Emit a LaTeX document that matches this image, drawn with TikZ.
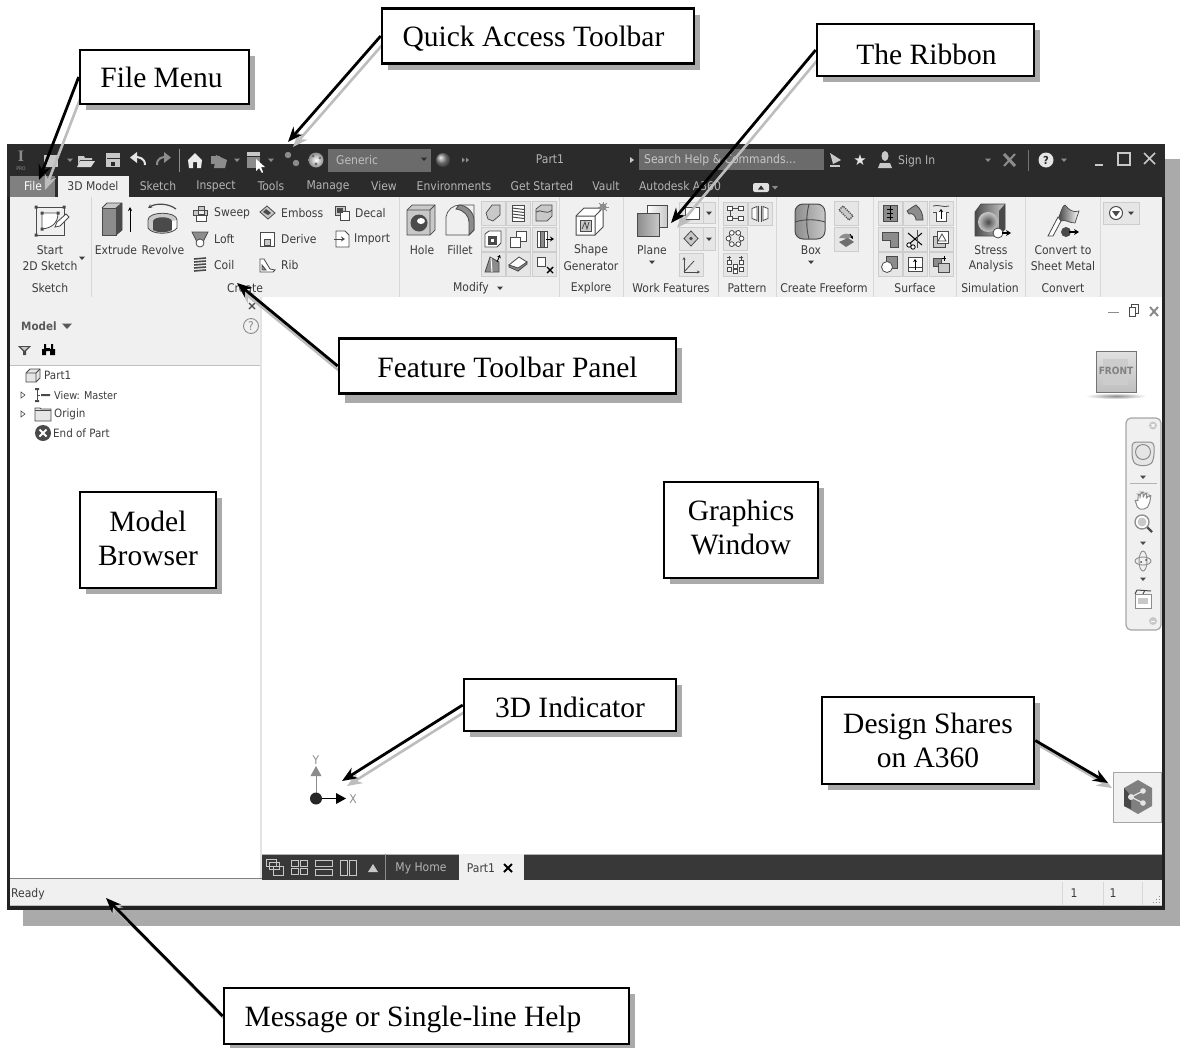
\documentclass[tikz,border=0pt]{standalone}
\usepackage{fontspec}
\setmainfont{Liberation Serif}
\newfontfamily\uifont{DejaVu Sans Condensed}
\newfontfamily\symfont{DejaVu Sans}
\usetikzlibrary{arrows.meta,calc,shadows}
\definecolor{barc}{HTML}{2B2B2B}
\definecolor{framec}{HTML}{222222}
\definecolor{shadowc}{HTML}{AAAAAA}
\definecolor{panelc}{HTML}{F0F0F0}
\definecolor{sepc}{HTML}{D8D8D8}
\definecolor{btnc}{HTML}{E6E6E6}
\definecolor{btnl}{HTML}{CDCDCD}
\definecolor{textc}{HTML}{3C3C3C}
\definecolor{tabtext}{HTML}{B4B4B4}
\definecolor{arrowsh}{HTML}{BDBDBD}
\definecolor{iconm}{HTML}{8C8C8C}
\definecolor{icond}{HTML}{4A4A4A}
\definecolor{iconl}{HTML}{C8C8C8}
\newcounter{uin}
\newcommand{\ulab}[3]{\stepcounter{uin}\node[uitext] (ui\arabic{uin}) at (#1,#2) {#3};}
\newcommand{\ulabl}[3]{\stepcounter{uin}\node[uitext,anchor=west] (ui\arabic{uin}) at (#1,#2) {#3};}
\newcommand{\treelab}[4]{\stepcounter{uin}\node[uitext,anchor=west,font=\uifont\fontsize{#4}{13}\selectfont] (ui\arabic{uin}) at (#1,#2) {#3};}
\newcommand{\tlab}[2]{\stepcounter{uin}\node[uitext,text=tabtext] (ui\arabic{uin}) at (#1,186.5) {#2};}
\newcommand{\ic}[2]{\begin{scope}[shift={(#1)}]#2\end{scope}}
\newcommand{\utri}[3]{\fill[#3] (#1-3,#2-1.5) -- (#1+3,#2-1.5) -- (#1,#2+2) -- cycle;}
\newcommand{\ubtn}[2]{\draw[fill=btnc,draw=btnl,line width=0.8] (#1-12,#2-12) rectangle (#1+12,#2+12);}
\newcommand{\sepl}[1]{\draw[sepc,line width=1] (#1,197) -- (#1,297);}
\begin{document}
\begin{tikzpicture}[x=1pt,y=-1pt,
  uitext/.style={font=\uifont\fontsize{12}{13}\selectfont,text=textc,inner sep=0pt},
  callout/.style={draw=black,fill=white,line width=2.6,align=center,inner sep=0pt,
    font=\fontsize{29.5}{34}\selectfont,text=black,
    drop shadow={shadow xshift=6pt,shadow yshift=-#1,fill=shadowc,opacity=1}},
  callout/.default=6pt,
  baseoff/.style={text height=#1,text depth=0pt},
  pointer/.style={draw=black,line width=2.8,-{Stealth[length=15pt,width=12pt]}},
  pointersh/.style={draw=arrowsh,line width=2.6,-{Stealth[length=15pt,width=12pt]}},
  ico/.style={draw=icond,line width=0.8,fill=iconm},
  icl/.style={draw=icond,line width=0.7,fill=iconl},
  wire/.style={draw=icond,line width=0.8},
]
\pgfdeclarelayer{top}
\pgfdeclarelayer{over}
\pgfsetlayers{main,top,over}
\useasboundingbox (0,0) rectangle (1180,1047);
\fill[white] (0,0) rectangle (1180,1047);
% window and shadow
\fill[shadowc] (23,159) rectangle (1181,926);
\fill[framec] (7,144) rectangle (1165,910);
\fill[white] (10,197) rectangle (1162,906);
\fill[barc] (7,144) rectangle (1165,197);
\fill[panelc] (10,197) rectangle (1162,297);
\fill[panelc] (10,297) rectangle (260,365);
\draw[black!25,line width=0.8] (10,365) -- (260,365);
\fill[sepc!70] (260,297) rectangle (262,878);
\fill[panelc] (10,879) rectangle (1162,906);
\draw[gray,line width=0.8] (10,878.5) -- (262,878.5);
\draw[black!25,line width=0.8] (10,905.5) -- (1162,905.5);
% title row
\stepcounter{uin}\node[inner sep=0pt,text=iconm,font=\bfseries\fontsize{16}{16}\selectfont] (ui\arabic{uin}) at (21,156) {I};
\stepcounter{uin}\node[inner sep=0pt,text=iconm,font=\uifont\fontsize{5}{5}\selectfont] (ui\arabic{uin}) at (21,169) {PRO};
\fill[iconl] (44,155) rectangle (58,167);
\utri{70}{160}{iconm}
\fill[iconl] (78,156) -- (84,156) -- (85,158) -- (92,158) -- (92,160) -- (80,160) -- (78,165) -- cycle;
\fill[white!85!black] (80,161) -- (95,161) -- (91,167) -- (77,167) -- cycle;
\fill[iconl] (106,153) rectangle (120,167);
\fill[barc] (106.5,158) rectangle (119.5,159);
\fill[barc] (111,162) rectangle (115,165.5);
\draw[white!90!black,line width=2] (145,165) .. controls (145,158) and (139,157) .. (135,157);
\fill[white!90!black] (137,152) -- (130,157.5) -- (137,163) -- cycle;
\draw[iconm,line width=2] (157,165) .. controls (157,158) and (162,157) .. (166,157);
\fill[iconm] (164,152) -- (171,157.5) -- (164,163) -- cycle;
\draw[iconm,line width=0.8] (179,149) -- (179,172);
\fill[white!92!black] (188,160) -- (195,153) -- (202,160) -- (201,168) -- (197,168) -- (197,162) -- (193,162) -- (193,168) -- (189,168) -- cycle;
\fill[iconm] (211,156) rectangle (220,164);
\fill[iconl!70!black] (216,155) -- (227,160) -- (225,168) -- (214,168) -- cycle;
\utri{237}{160}{iconm}
\fill[iconl] (247,152) rectangle (260,156);
\fill[iconm] (247,157) rectangle (260,168);
\fill[white] (256,159) -- (256,171) -- (259,168) -- (262,173) -- (263,172) -- (261,167) -- (265,167) -- cycle;
\utri{271}{160}{iconm}
\fill[iconm] (288,155) circle (3.2);
\fill[iconm] (296,163) circle (3.2);
\shade[inner color=white,outer color=iconm] (316,160) circle (7.5);
\fill[barc!70] (313,156) circle (1.5) (320,158) circle (1.3) (316,164) circle (1.6);
\fill[black!58] (328,149) rectangle (431,172);
\ulabl{336}{160}{\textcolor{black!25}{Generic}}
\utri{424}{159}{barc}
\shade[ball color=black!45] (443,160) circle (7);
\fill[iconm] (462,157.5) -- (465,160) -- (462,162.5) -- cycle;
\fill[iconm] (466,157.5) -- (469,160) -- (466,162.5) -- cycle;
\ulab{550}{159}{\textcolor{tabtext}{Part1}}
\fill[iconl] (630,157) -- (634,160) -- (630,163) -- cycle;
\fill[black!58] (639,149) rectangle (824,170);
\ulabl{644}{160}{\textcolor{black!22}{Search Help \& Commands...}}
\fill[iconl] (830,153) -- (841,160) -- (833,164) -- cycle;
\fill[iconl] (830,165) -- (840,165) -- (840,167) -- (830,167) -- cycle;
\stepcounter{uin}\node[inner sep=0pt,text=white!90!black,font=\symfont\fontsize{15}{15}\selectfont] (ui\arabic{uin}) at (860,160) {★};
\fill[iconl] (885,156) ellipse (3.5 and 5);
\fill[iconl] (878,168) -- (880,163) -- (890,163) -- (892,168) -- cycle;
\ulabl{898}{161}{\textcolor{tabtext}{Sign In}}
\utri{988}{160}{iconm}
\draw[iconm,line width=3] (1004,154) -- (1015,166);
\draw[iconm,line width=2] (1015,154) -- (1004,166);
\draw[black!55,line width=0.8] (1028,150) -- (1028,171);
\fill[white!90!black] (1046,160) circle (7.5);
\stepcounter{uin}\node[inner sep=0pt,text=barc,font=\uifont\bfseries\fontsize{11}{11}\selectfont] (ui\arabic{uin}) at (1046,160) {?};
\utri{1064}{160}{iconm}
\draw[iconl,line width=1.6] (1095,165) -- (1103,165);
\draw[iconl,line width=1.2] (1118,153) rectangle (1130,165);
\draw[iconl,line width=1.6] (1144,153) -- (1155,164) (1155,153) -- (1144,164);
% tab row
\fill[black!50] (10,176) rectangle (55,197);
\ulab{33}{186.5}{\textcolor{white}{File}}
\fill[panelc] (58,176) rectangle (129,197);
\ulab{93}{186.5}{3D Model}
\tlab{158}{Sketch}\tlab{216}{Inspect}\tlab{271}{Tools}\tlab{328}{Manage}\tlab{384}{View}
\tlab{454}{Environments}\tlab{542}{Get Started}\tlab{606}{Vault}\tlab{680}{Autodesk A360}
\fill[white!88!black,rounded corners=2] (753,183) rectangle (769,192);
\fill[barc] (758,189.5) -- (764,189.5) -- (761,185.5) -- cycle;
\utri{775}{187.5}{iconm}
% ribbon separators
\foreach \xx in {91,399,559,623,718,776,873,956,1025,1100} {\sepl{\xx}}
% ribbon labels
\ulab{50}{250}{Start}\ulab{50}{266}{2D Sketch}\utri{82}{258}{textc}\ulab{50}{288}{Sketch}
\ulab{116}{250}{Extrude}\ulab{163}{250}{Revolve}
\ulabl{214}{213}{Sweep}\ulabl{214}{239}{Loft}\ulabl{214}{265}{Coil}
\ulabl{281}{213}{Emboss}\ulabl{281}{239}{Derive}\ulabl{281}{265}{Rib}
\ulabl{355}{213}{Decal}\ulabl{354}{239}{Import}
\ulab{245}{288}{Create}
\ulab{422}{250}{Hole}\ulab{460}{250}{Fillet}
\ulab{471}{288}{Modify}\utri{500}{288}{textc}
\ulab{591}{250}{Shape}\ulab{591}{266}{Generator}\ulab{591}{288}{Explore}
\ulab{652}{250}{Plane}\utri{652}{262}{textc}
\ulab{671}{288}{Work Features}\ulab{747}{288}{Pattern}
\ulab{811}{250}{Box}\utri{811}{262}{textc}\ulab{824}{288}{Create Freeform}
\ulab{915}{288}{Surface}\ulab{991}{250}{Stress}\ulab{991}{266}{Analysis}\ulab{990}{288}{Simulation}
\ulab{1063}{250}{Convert to}\ulab{1063}{266}{Sheet Metal}\ulab{1063}{288}{Convert}
% Start 2D Sketch icon
\ic{50,221}{
  \draw[wire,line width=1] (-14,-14) rectangle (14,14);
  \draw[wire,fill=white] (-8,-8) -- (8,-8) .. controls (8,2) and (2,7) .. (-8,8) -- cycle;
  \fill[icond] (-15.5,-15.5) rectangle (-12.5,-12.5) (12.5,-15.5) rectangle (15.5,-12.5) (-15.5,12.5) rectangle (-12.5,15.5) (-9.5,-9.5) rectangle (-6.5,-6.5) (6.5,-9.5) rectangle (9.5,-6.5) (-9.5,6.5) rectangle (-6.5,9.5);
  \draw[icond,fill=white,line width=0.8] (7,1) -- (16,-7) -- (19,-4) -- (10,5) -- (5,6) -- cycle;
}
% Extrude
\fill[iconm] (102,208) rectangle (116,235);
\fill[iconl] (102,208) -- (107,203) -- (122,203) -- (116,208) -- cycle;
\fill[icond] (116,208) -- (122,203) -- (122,230) -- (116,235) -- cycle;
\draw[wire] (102,208) rectangle (116,235);
\draw[wire] (102,208) -- (107,203) -- (122,203) -- (122,230) -- (116,235) (116,208) -- (122,203);
\draw[black,line width=0.9,-{Stealth[length=4pt,width=4pt]}] (130,232) -- (130,207);
% Revolve
\draw[icond,line width=1.2,-{Stealth[length=4pt,width=4pt]}] (176,209) .. controls (168,203) and (156,203) .. (148,208);
\fill[iconl] (148,220) .. controls (148,211) and (177,211) .. (177,220) -- (177,228) .. controls (172,235) and (152,235) .. (148,228) -- cycle;
\fill[icond] (153,221) .. controls (155,216) and (170,216) .. (172,221) -- (172,230) .. controls (166,233) and (158,233) .. (153,230) -- cycle;
\fill[white] (172,221) -- (177,220) -- (177,228) -- (172,232) -- cycle;
\draw[wire] (148,220) .. controls (148,211) and (177,211) .. (177,220) -- (177,228) .. controls (172,235) and (152,235) .. (148,228) -- cycle;
% small create icons
\ic{200,213}{\draw[icl] (-2,-7) rectangle (4,1) (-7,-3) -- (7,-3) -- (7,2) -- (-7,2) -- cycle; \draw[ico,fill=white] (-4,2) rectangle (6,8);}
\ic{200,239}{\draw[ico] (-8,-7) -- (8,-7) -- (3,3) -- (-3,3) -- cycle; \draw[wire,fill=white] (0,4) circle (4);}
\ic{200,265}{\foreach \yy in {-6,-3,0,3,6} {\draw[icond,line width=1.6] (-6,\yy) -- (6,\yy-1);}}
\ic{267,213}{\fill[iconl] (-7,-1) -- (0,-7) -- (8,0) -- (1,6) -- cycle; \draw[wire] (-7,-1) -- (0,-7) -- (8,0) -- (1,6) -- cycle; \fill[icond] (-4,-1) -- (-1,-4) -- (4,0) -- (1,2) -- cycle;}
\ic{267,239}{\draw[wire,fill=white] (-7,-7) rectangle (7,7); \draw[icl] (-3,0) rectangle (3,6);}
\ic{267,265}{\draw[wire,fill=white] (-7,7) -- (-7,-6) -- (-3,-6) -- (3,4) -- (8,5) -- (6,7) -- cycle; \draw[ico] (-5,5) -- (-5,0) -- (-1,5) -- cycle;}
\ic{342,213}{\draw[icl] (-7,-7) rectangle (3,2); \draw[wire,fill=white] (-2,-2) rectangle (7,7); \fill[icond] (-5,-5) rectangle (1,0);}
\ic{342,239}{\draw[wire,fill=white] (-6,-8) -- (3,-8) -- (7,-4) -- (7,8) -- (-6,8) -- cycle; \draw[icond,line width=1,-{Stealth[length=4pt,width=5pt]}] (-8,0) -- (3,0);}
% hole and fillet
\ic{421,220}{
  \draw[icl] (-14,-10) -- (-9,-15) -- (14,-15) -- (14,10) -- (9,15) -- (-14,15) -- cycle;
  \draw[wire] (-14,-10) -- (9,-10) -- (14,-15) (9,-10) -- (9,15);
  \fill[icond] (-2,3) circle (8.5); \fill[white] (0,1) ellipse (4 and 3);
}
\ic{460,220}{
  \draw[icl,fill=panelc] (-14,15) -- (-14,-3) .. controls (-13,-10) and (-7,-15) .. (0,-15) -- (14,-15) -- (14,10) -- (9,15) -- cycle;
  \draw[ico] (-1,-15) .. controls (6,-15) and (14,-8) .. (14,0) -- (14,10) -- (9,15) -- (9,2) .. controls (9,-4) and (4,-10) .. (-4,-11) -- cycle;
}
% modify grid
\ubtn{493}{213}\ubtn{518}{213}\ubtn{544}{213}\ubtn{493}{239}\ubtn{518}{239}\ubtn{544}{239}\ubtn{493}{264}\ubtn{518}{264}\ubtn{544}{264}
\ic{493,213}{\draw[icl] (-7,0) -- (-1,-8) -- (7,-8) -- (7,2) -- (0,8) -- (-5,6) -- cycle;}
\ic{518,213}{\draw[wire,fill=white] (-6,-8) rectangle (6,8); \foreach \yy in {-5,-2,1,4} {\draw[icond,line width=1] (-6,\yy) -- (6,\yy+1.5);}}
\ic{544,213}{\draw[icl] (-8,-4) -- (-3,-8) -- (8,-8) -- (8,3) -- (3,8) -- (-8,8) -- cycle; \draw[wire] (-8,-1) .. controls (-3,-5) and (2,3) .. (8,-3);}
\ic{493,239}{\draw[wire,fill=white] (-8,-5) -- (-4,-8) -- (8,-8) -- (8,4) -- (4,8) -- (-8,8) -- cycle; \draw[ico,fill=icond] (-5,-3) rectangle (3,5); \fill[white] (-2,0) rectangle (1,3);}
\ic{518,239}{\draw[wire,fill=white] (-2,-8) rectangle (8,2); \draw[wire,fill=white] (-8,-2) rectangle (2,8);}
\ic{544,239}{\draw[wire,fill=white] (-7,-8) rectangle (3,8); \draw[ico] (-4,-8) rectangle (0,8); \draw[black,line width=1,-{Stealth[length=4pt,width=5pt]}] (2,0) -- (10,0);}
\ic{493,264}{\draw[ico] (-8,8) -- (-3,-7) -- (6,-2) -- (6,8) -- cycle; \draw[white,line width=1] (-2,-6) -- (-1,8); \draw[black,line width=0.9,-{Stealth[length=3pt,width=4pt]}] (4,-2) -- (7,-9);}
\ic{518,264}{\draw[wire,fill=white] (-9,1) -- (1,-7) -- (9,-2) -- (0,7) -- cycle; \draw[ico] (-9,1) -- (0,4) -- (9,-2) -- (9,0) -- (0,7) -- (-9,3) -- cycle;}
\ic{544,264}{\draw[wire,fill=white] (-7,-7) rectangle (1,2); \draw[black,line width=1.4] (3,3) -- (9,9) (9,3) -- (3,9);}
% plane
\shade[left color=white,right color=iconl] (647,205) rectangle (667,227);
\draw[wire,line width=1] (647,205) rectangle (667,227);
\shade[left color=iconm,right color=iconl] (637,213) rectangle (659,236);
\draw[wire,line width=1] (637,213) rectangle (659,236);
% work features
\draw[fill=btnc,draw=btnl,line width=0.8] (679,202) rectangle (715,223);
\draw[btnl,line width=0.8] (703,202) -- (703,223);
\utri{709}{213}{textc}
\draw[wire,fill=white] (685,207) rectangle (699,219);
\draw[fill=btnc,draw=btnl,line width=0.8] (679,227) rectangle (715,250);
\draw[btnl,line width=0.8] (703,227) -- (703,250);
\utri{709}{239}{textc}
\draw[wire,fill=iconl] (691,231) -- (698,238.5) -- (691,246) -- (684,238.5) -- cycle;
\fill[icond] (691,238.5) circle (1.8);
\draw[fill=btnc,draw=btnl,line width=0.8] (679,253) rectangle (703,276);
\draw[icond,line width=0.8,-{Stealth[length=3pt,width=3pt]}] (684,272) -- (684,257);
\draw[icond,line width=0.8,-{Stealth[length=3pt,width=3pt]}] (684,272) -- (700,272);
\draw[icond,line width=0.8] (684,272) -- (694,261);
% pattern
\draw[fill=btnc,draw=btnl,line width=0.8] (723,202) rectangle (747,225);
\draw[fill=btnc,draw=btnl,line width=0.8] (748,202) rectangle (772,225);
\draw[fill=btnc,draw=btnl,line width=0.8] (723,227) rectangle (747,250);
\draw[fill=btnc,draw=btnl,line width=0.8] (723,253) rectangle (747,276);
\ic{735,213.5}{\draw[wire] (-5,-5) -- (5,-5) (-5,5) -- (5,5) (-5,-5) -- (-5,5); \draw[wire,fill=white] (-8,-7) rectangle (-3,-3) (3,-7) rectangle (8,-3) (-8,3) rectangle (-3,7) (3,3) rectangle (8,7);}
\ic{760,213.5}{\draw[wire,line width=1] (-1.5,-8) -- (-1.5,8) (1.5,-8) -- (1.5,8); \draw[wire,fill=white] (-8,-5) -- (-3,-7) -- (-3,7) -- (-8,5) -- cycle (8,-5) -- (3,-7) -- (3,7) -- (8,5) -- cycle;}
\ic{735,238.5}{\draw[wire] (0,0) circle (6.5); \foreach \aa in {0,60,...,300} {\draw[wire,fill=white] (\aa:6.5) circle (2.4);}}
\ic{735,264.5}{\foreach \xa/\ya in {-6/-2,6/-2,-6/5,0/2,6/5,0/7} {\draw[wire,fill=white] (\xa-2,\ya-2) rectangle (\xa+2,\ya+2);} \draw[icond,line width=0.8] (-6,-9) -- (-6,-5) (-8,-7) -- (-4,-7) (6,-9) -- (6,-5) (4,-7) -- (8,-7);}
% shape generator
\ic{591,220}{
  \draw[wire,line width=1,fill=white] (-15,-4) -- (-7,-12) -- (12,-12) -- (12,7) -- (4,15) -- (-15,15) -- cycle;
  \draw[wire,line width=1] (-15,-4) -- (4,-4) -- (12,-12) (4,-4) -- (4,15);
  \draw[icond,fill=iconl,line width=0.8] (-11,0) rectangle (0,11);
  \draw[icond,line width=0.8] (-9,9) -- (-6,2) -- (-4,9) -- (-2,2);
  \fill[iconm] (12,-13) circle (3.5);
  \foreach \aa in {0,45,...,315} {\draw[iconm,line width=0.8] ($(12,-13)+(\aa:3)$) -- ($(12,-13)+(\aa:5.5)$);}
}
% box (freeform)
\ic{810,222}{
  \draw[icond,line width=1,left color=iconm,right color=iconl,rounded corners=8] (-15,-18) rectangle (15,17);
  \draw[icond,line width=0.9] (-15,0) .. controls (-6,-3) and (6,-3) .. (15,0) (-1,-18) .. controls (-4,-6) and (-4,6) .. (-1,17);
}
\ubtn{846}{213}\ubtn{846}{239}
\ic{846,213}{\draw[icond,densely dotted,line width=1.2,fill=iconl] (-7,-3) -- (-3,-7) -- (7,3) -- (3,7) -- cycle;}
\ic{846,239}{\fill[iconm] (-7,-1) .. controls (-3,-7) and (3,-6) .. (6,-3) -- (1,0) .. controls (-2,-1) and (-4,-1) .. (-7,-1) -- cycle; \fill[icond!80] (-7,3) -- (2,-1) -- (8,3) -- (0,8) -- cycle; \draw[black,line width=0.8,-{Stealth[length=3pt,width=3pt]}] (4,-5) -- (7,0);}
% surface grid
\ubtn{890}{213}\ubtn{915}{213}\ubtn{941}{213}\ubtn{890}{239}\ubtn{915}{239}\ubtn{941}{239}\ubtn{890}{264}\ubtn{915}{264}\ubtn{941}{264}
\ic{890,213}{\draw[ico] (-7,-8) rectangle (7,8); \draw[black,line width=0.9] (0,-7) -- (0,7) (-3,-4) -- (3,-4) (-3,0) -- (3,0) (-3,4) -- (3,4);}
\ic{915,213}{\draw[ico] (-8,-2) .. controls (-4,-5) and (-1,-7) .. (1,-8) .. controls (6,-4) and (8,1) .. (8,7) -- (1,7) .. controls (1,3) and (-3,-1) .. (-6,1) -- cycle;}
\ic{941,213}{\draw[wire,fill=white] (-8,-1) -- (-5,-1) -- (-5,8) -- (5,8) -- (5,-1) -- (8,-1); \draw[wire] (-8,-7) .. controls (-3,-9) and (3,-5) .. (8,-7); \draw[black,line width=1,-{Stealth[length=3pt,width=4pt]}] (0,6) -- (0,-4);}
\ic{890,239}{\draw[ico] (-8,-7) -- (8,-7) -- (8,8) -- (0,8) -- (0,1) -- (-8,1) -- cycle;}
\ic{915,239}{\draw[black,line width=1] (-7,-6) -- (7,6) (-7,6) -- (7,-6); \draw[black,fill=white,line width=0.8] (-6,6) circle (2.2) (-2,8) circle (2.2); \draw[wire] (2,-9) -- (2,9);}
\ic{941,239}{\draw[ico,fill=iconl] (-8,-3) rectangle (4,8); \draw[wire,fill=white] (-4,-8) -- (7,-8) -- (7,4) -- (-4,4) -- cycle; \draw[wire] (1,-5) -- (5,2) -- (-3,2) -- cycle;}
\ic{890,264}{\draw[ico] (-4,-8) rectangle (7,4); \draw[wire,fill=white] (-3,3) circle (5.5);}
\ic{915,264}{\draw[wire,fill=white] (-7,-7) rectangle (7,7); \draw[wire] (-7,3) -- (7,3); \draw[black,line width=1,-{Stealth[length=3pt,width=4pt]}] (0,6) -- (0,-5);}
\ic{941,264}{\draw[ico] (-8,-6) rectangle (0,2); \draw[wire,fill=iconl] (-3,-1) rectangle (8,8); \draw[black,line width=0.8] (3,-8) -- (3,-3) (1,-6) -- (5,-6);}
% stress
\ic{990,220}{
  \shade[wire,left color=icond,right color=iconl] (-15,-8) -- (-9,-16) -- (15,-16) -- (15,9) -- (9,16) -- (-15,16) -- cycle;
  \shade[inner color=icond,outer color=iconl] (-2,2) circle (10);
  \fill[icond] (9,16) -- (15,9) -- (15,-16) -- (9,-9) -- cycle;
  \draw[wire,fill=white] (8,13) circle (5);
  \draw[black,line width=1.2,-{Stealth[length=5pt,width=6pt]}] (12,13) -- (21,13);
}
% convert to sheet metal
\ic{1063,221}{
  \draw[icl,left color=icond,right color=white] (-4,-4) .. controls (-2,-10) and (0,-16) .. (2,-16) .. controls (6,-11) and (10,-8) .. (16,-10) -- (12,2) .. controls (6,2) and (2,-2) .. (-2,0) -- cycle;
  \draw[wire,fill=white] (-15,15) -- (-5,-4) -- (-2,0) -- (-10,15) -- cycle;
  \fill[icond] (3,11) circle (5);
  \draw[black,line width=1.2,-{Stealth[length=5pt,width=6pt]}] (6,11) -- (16,11);
}
% ribbon drop-down
\draw[fill=btnc,draw=btnl,line width=0.8] (1103,202) rectangle (1139,224);
\draw[icond,fill=white,line width=1] (1116,213) circle (6.5);
\fill[icond] (1112,211) -- (1120,211) -- (1116,216.5) -- cycle;
\utri{1131}{213}{textc}
% browser
\draw[icond,line width=1.1] (249,303) -- (255,309) (255,303) -- (249,309);
\stepcounter{uin}\node[uitext,anchor=west,font=\uifont\bfseries\fontsize{11.5}{13}\selectfont,text=black!65] (ui\arabic{uin}) at (21,326) {Model};
\fill[black!65] (62,323.5) -- (72,323.5) -- (67,329) -- cycle;
\draw[iconm,line width=0.9] (251,326) circle (7.5);
\stepcounter{uin}\node[uitext,text=iconm] (ui\arabic{uin}) at (251,326) {?};
\fill[icond] (18,346) -- (31,346) -- (26,351) -- (26,355) -- (23,355) -- (23,351) -- cycle;
\fill[iconl] (21,347) -- (28,347) -- (24.5,350.5) -- cycle;
\fill[black] (42,349) rectangle (46,355) (50,349) rectangle (55,355) (44,344) rectangle (46,349) (51,344) rectangle (53,349) (46,348) rectangle (50,351);
\ic{33,375}{\draw[wire,fill=btnc] (-7,-2) -- (-3,-6) -- (7,-6) -- (7,3) -- (3,7) -- (-7,7) -- cycle; \draw[wire] (-7,-2) -- (3,-2) -- (7,-6) (3,-2) -- (3,7);}
\treelab{44}{375.5}{Part1}{11.5}
\draw[icond,line width=0.6] (21,392) -- (25,395) -- (21,398) -- cycle;
\ic{41,395}{\fill[icond] (-6,-7) rectangle (-2,-5) (-6,5) rectangle (-2,7) (0,-1) rectangle (9,1); \draw[icond,line width=0.8] (-4,-5) -- (-4,5) (-4,0) -- (-1,0) (-4,5) -- (-2,5);}
\treelab{54}{395}{View: Master}{10.8}
\draw[icond,line width=0.6] (21,411) -- (25,414) -- (21,417) -- cycle;
\ic{43,414}{\draw[wire,fill=btnc] (-8,-6) -- (-3,-6) -- (-2,-5) -- (8,-5) -- (8,7) -- (-8,7) -- cycle; \draw[wire] (-8,-4) -- (8,-4);}
\treelab{54}{414}{Origin}{11.5}
\fill[icond] (43,433) circle (8);
\draw[white,line width=2] (39.5,429.5) -- (46.5,436.5) (46.5,429.5) -- (39.5,436.5);
\treelab{53}{433.5}{End of Part}{11.5}
% graphics window corner
\draw[iconm,line width=1.6,rounded corners=1] (1108,312.5) -- (1119,312.5);
\draw[icond,line width=0.8] (1129,307) rectangle (1135,316);
\draw[icond,line width=0.8] (1131,307) -- (1131,304) -- (1138,304) -- (1138,313) -- (1135,313);
\draw[iconm,line width=2] (1150,307) -- (1158,316) (1158,307) -- (1150,316);
% view cube
\shade[inner color=black!45,outer color=white] (1116,396) ellipse (31 and 3);
\shade[top color=black!12,bottom color=black!25] (1096,351) rectangle (1136,392);
\draw[black!55,line width=0.8] (1096,351) rectangle (1136,392);
\fill[black!20] (1103,359) rectangle (1128,385);
\stepcounter{uin}\node[inner sep=0pt,text=black!50,font=\uifont\bfseries\fontsize{10}{10}\selectfont] (ui\arabic{uin}) at (1116,371) {FRONT};
% navigation bar
\draw[fill=panelc,draw=black!35,line width=1.2,rounded corners=5] (1126,418) rectangle (1161,630);
\fill[iconl] (1153,425.5) circle (4);
\draw[white,line width=0.8] (1151.5,424) -- (1154.5,427) (1154.5,424) -- (1151.5,427);
\draw[iconm,fill=btnc,line width=1,rounded corners=4] (1132,442) -- (1154,442) -- (1154,458) .. controls (1150,467) and (1136,467) .. (1132,458) -- cycle;
\draw[iconm,fill=white!90!black,line width=1] (1143,452) circle (7.5);
\utri{1143}{477}{icond}
\draw[black!30,line width=0.8] (1130,483.5) -- (1157,483.5);
\ic{1143,500}{\draw[iconm,fill=white,line width=1,rounded corners=2] (-5,9) -- (-8,0) -- (-5,1) -- (-5,-6) -- (-3,-6) -- (-3,-2) -- (-2,-8) -- (0,-8) -- (0,-2) -- (2,-7) -- (4,-7) -- (3,-1) -- (6,-5) -- (8,-4) -- (6,5) -- (3,9) -- cycle;}
\ic{1142,522}{\draw[icond,line width=2.2] (5,5) -- (10,10); \draw[iconm,fill=white,line width=1.3] (0,0) circle (7); \fill[iconl] (0,0) circle (4.5);}
\utri{1143}{543}{icond}
\ic{1143,561}{\draw[iconm,line width=0.9] (0,0) ellipse (8 and 4); \draw[iconm,line width=0.9] (0,0) ellipse (4 and 10); \fill[icond] (3,-1) circle (1) (-2,1) circle (1);}
\utri{1143}{579}{icond}
\ic{1143,599}{\draw[iconm,fill=white,line width=1] (-8,-5) rectangle (8,9); \fill[iconl] (-5,-1) rectangle (5,5); \draw[icond,line width=1] (-8,-5) -- (-6,-9) (0,-5) -- (2,-9) (8,-8) -- (-6,-9);}
\fill[iconl] (1153,621) circle (4);
\draw[white,line width=0.9] (1151,621) -- (1155,621);
% triad
\draw[iconm,line width=1] (316,798) -- (316,774);
\fill[iconm] (310.5,776) -- (321.5,776) -- (316,766) -- cycle;
\stepcounter{uin}\node[uitext,text=iconm] (ui\arabic{uin}) at (316,760) {Y};
\draw[black,line width=1] (316,798.5) -- (337,798.5);
\fill[black] (336,793) -- (346,798.5) -- (336,804) -- cycle;
\fill[black!85] (316,798.5) circle (6);
\stepcounter{uin}\node[uitext,text=iconm] (ui\arabic{uin}) at (353,799) {X};
% bottom tab bar
\fill[black!78] (262,854) rectangle (1162,880);
\draw[black!30,line width=0.6] (262,854) -- (1162,854);
\fill[panelc] (459,854) rectangle (524,880);
\draw[iconl,line width=0.9] (266,859) rectangle (276,866) (269.5,862) rectangle (279,869) (273,866) rectangle (283,875);
\draw[iconl,line width=0.9] (291,860) rectangle (298,866) (300,860) rectangle (307,866) (291,868) rectangle (298,874) (300,868) rectangle (307,874);
\draw[iconl,line width=0.9] (315,860) rectangle (332,866) (315,869) rectangle (332,875);
\draw[iconl,line width=0.9] (340,860) rectangle (347,875) (349,860) rectangle (356,875);
\fill[iconl] (368,872) -- (378,872) -- (373,864) -- cycle;
\draw[black!45,line width=0.8] (385.5,854) -- (385.5,880);
\ulab{421}{868}{\textcolor{tabtext}{My Home}}
\ulab{481}{868}{Part1}
\draw[black,line width=1.8] (504,864) -- (512,872) (512,864) -- (504,872);
% status bar
\ulabl{11}{894}{Ready}
\draw[sepc,line width=1] (1062,882) -- (1062,905) (1103,882) -- (1103,905) (1142,882) -- (1142,905);
\ulab{1074}{893.5}{1}\ulab{1113}{893.5}{1}
\foreach \xa/\ya in {1159/896,1159/899,1156/899,1159/902,1156/902,1153/902} {\fill[iconm] (\xa,\ya) rectangle ++(1.2,1.2);}
% share button
\draw[fill=panelc,draw=black!35,line width=1] (1113,772) rectangle (1161,822);
\fill[black!50] (1138,780) -- (1152,788) -- (1152,806) -- (1138,814) -- (1124,806) -- (1124,788) -- cycle;
\fill[black!72] (1124,788) -- (1131,796) -- (1131,809) -- (1124,806) -- cycle;
\draw[white!90!black,line width=1.2] (1131,797) -- (1143,791) (1131,797) -- (1143,803);
\fill[white!90!black] (1131,797) circle (3) (1143,791) circle (2.8) (1143,803) circle (2.8);
% callouts
\begin{pgfonlayer}{top}
\node[callout,baseoff=20pt,minimum width=169,minimum height=54] (filemenu) at (164.5,77) {File Menu\hspace*{6pt}};
\node[callout,baseoff=20pt,minimum width=312,minimum height=55] (quick) at (538,36) {Quick Access Toolbar\hspace*{9pt}};
\node[callout,baseoff=29pt,minimum width=217,minimum height=52] (ribbon) at (925.5,50) {\hspace*{2pt}The Ribbon};
\node[callout=9pt,baseoff=22pt,minimum width=337,minimum height=55] (feature) at (507.5,366) {Feature Toolbar Panel};
\node[callout,text depth=4pt,minimum width=136,minimum height=96] (browser) at (148,540) {Model\\Browser};
\node[callout,text depth=6pt,minimum width=154,minimum height=96] (graphics) at (741,530) {Graphics\\Window};
\node[callout,baseoff=24pt,minimum width=212,minimum height=52] (indicator) at (570,705) {3D Indicator};
\node[callout,minimum width=212,minimum height=87] (shares) at (928,740.5) {Design Shares\\on A360};
\node[callout,baseoff=20pt,minimum width=405,minimum height=56] (message) at (426.5,1016) {Message or Single-line Help\hspace*{27pt}};
\end{pgfonlayer}
% arrow targets
\coordinate (tfile) at (39,180);
\coordinate (tquick) at (288,142);
\coordinate (tribbon) at (671,223);
\coordinate (tfeature) at (237,283);
\coordinate (tindicator) at (342,781);
\coordinate (tshares) at (1108,783);
\coordinate (tmessage) at (106,898);
% arrow shadows
\draw[pointersh] ($(filemenu.west)+(6,10)$) -- ($(tfile)+(6,10)$);
\draw[pointersh] ($(quick.west)+(5,5)$) -- ($(tquick)+(5,5)$);
\draw[pointersh] ($(ribbon.west)+(6,5)$) -- ($(tribbon)+(6,5)$);
\draw[pointersh] ($(feature.west)+(3,6)$) -- ($(tfeature)+(3,6)$);
\draw[pointersh] ($(indicator.west)+(5,5)$) -- ($(tindicator)+(5,5)$);
\draw[pointersh] ($(shares.east)+(4,5)$) -- ($(tshares)+(4,5)$);
\draw[pointersh] ($(message.west)+(2,3)$) -- ($(tmessage)+(2,3)$);
% arrows
\begin{pgfonlayer}{over}
\draw[pointer] (filemenu.west) -- (tfile);
\draw[pointer] (quick.west) -- (tquick);
\draw[pointer] (ribbon.west) -- (tribbon);
\draw[pointer] (feature.west) -- (tfeature);
\draw[pointer] (indicator.west) -- (tindicator);
\draw[pointer] (shares.east) -- (tshares);
\draw[pointer] (message.west) -- (tmessage);
\end{pgfonlayer}
\end{tikzpicture}
\end{document}
